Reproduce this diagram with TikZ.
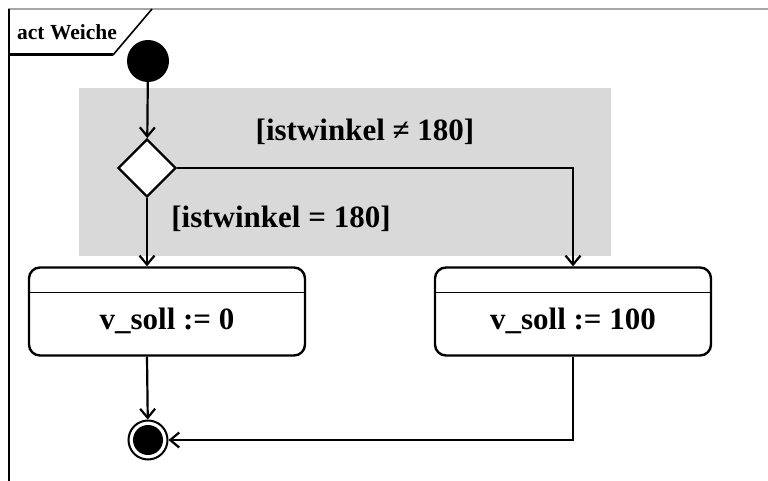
\documentclass[tikz,border=0pt]{standalone}
\usepackage{fontspec}
\setmainfont{Liberation Serif}
\usetikzlibrary{arrows.meta,shapes.geometric}
\begin{document}
\begin{tikzpicture}[x=1pt,y=-1pt,
pfeil/.style={line width=2.2pt,-{Straight Barb[length=9pt,width=15pt,line width=2.2pt]}},
aktion/.style={draw,line width=2.4pt,rounded corners=11pt,minimum width=276pt,minimum height=88pt,inner sep=0pt},
atext/.style={font=\fontsize{31}{34}\selectfont\bfseries,inner sep=0pt},
wache/.style={font=\fontsize{31}{34}\selectfont\bfseries,inner sep=0pt}]
\useasboundingbox (0,0) rectangle (768,481);
% frame
\draw[gray!70,line width=1.2pt](9,481)--(9,9)--(768,9);
\draw[line width=1.8pt](9,481)--(9,9);
\draw[line width=1.6pt](152,9)--(113,55);
\draw[line width=3pt](9,55)--(113,55);
\node[anchor=west,inner sep=0pt,font=\fontsize{21.5}{24}\selectfont\bfseries](titel)at(17,32){act Weiche};
% grey region
\fill[black!15](79,88)rectangle(611,256);
% nodes
\node[circle,fill,minimum size=42pt,inner sep=0pt](start)at(148,61){};
\node[diamond,draw,fill=white,line width=2.4pt,minimum size=58pt,inner sep=0pt](wahl)at(147,168){};
\node[aktion](links)at(167,311.5){};
\node[aktion](rechts)at(573,311.5){};
\draw[line width=1.4pt]([yshift=-26pt]links.north west)--([yshift=-26pt]links.north east);
\draw[line width=1.4pt]([yshift=-26pt]rechts.north west)--([yshift=-26pt]rechts.north east);
\node[atext](linkst)at([yshift=-9pt]links.center){v\_soll := 0};
\node[atext](rechtst)at([yshift=-9pt]rechts.center){v\_soll := 100};
\node[circle,draw,line width=2pt,minimum size=39pt,inner sep=0pt](ende)at(148,440){};
\node[circle,fill,minimum size=30pt,inner sep=0pt](endep)at(ende){};
% guards
\node[wache](ungl)at(365,132){[istwinkel ≠ 180]};
\node[wache](gleich)at(281,219){[istwinkel = 180]};
% edges
\draw[pfeil](start)--(wahl);
\draw[pfeil](wahl.east)-|(rechts.north);
\draw[pfeil](wahl.south)--(wahl.south|-links.north);
\draw[pfeil](wahl.south|-links.south)--(ende);
\draw[pfeil](rechts.south)|-(ende.east);
\end{tikzpicture}
\end{document}
